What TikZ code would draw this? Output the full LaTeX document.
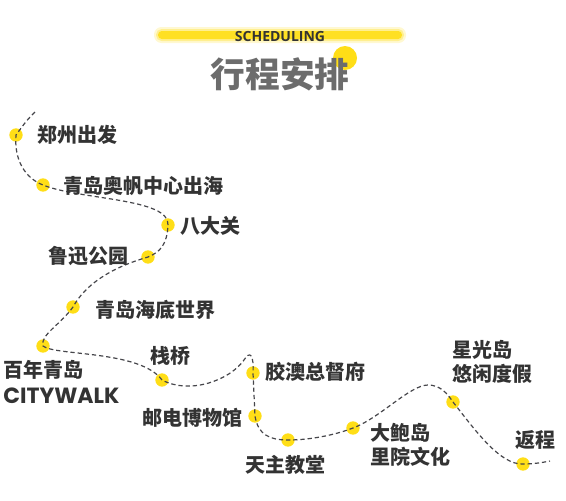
\documentclass[tikz,border=0pt]{standalone}
\usepackage{fontspec}
\newfontfamily\cjk{Noto Sans CJK SC}
\newfontfamily\headfont{Open Sans}
\newfontfamily\roundfont{Poppins}
\definecolor{dotYellow}{RGB}{255,222,23}
\definecolor{inkGray}{RGB}{51,51,51}
\definecolor{titleGray}{RGB}{108,108,108}
\definecolor{routeGray}{RGB}{70,70,75}

\tikzset{
  spot/.style={circle, fill=dotYellow, inner sep=0pt, minimum size=10pt},
  place/.style={font=\cjk\bfseries\fontsize{15}{18.5}\selectfont, text=inkGray,
    inner sep=0pt, align=left},
  route/.style={routeGray, line width=0.9pt, dash pattern=on 3.2pt off 2.2pt}
}

\begin{document}
\begin{tikzpicture}[x=0.75pt, y=-0.75pt]
  \useasboundingbox (0,0) rectangle (566,500);

  % title bar, soft edges
  \foreach \o/\h/\w in {0.2/16/0, 0.35/12/2, 0.9/8/4}
    \fill[dotYellow, opacity=\o, rounded corners=\h*0.35pt]
      (154+\w,35-\h/2) rectangle (406-\w,35+\h/2);
  \node[font=\headfont\bfseries\fontsize{10.5}{12}\selectfont, text=inkGray] (sub) at (280,36) {SCHEDULING};
  \fill[dotYellow] (345,58) circle (12);
  \node[font=\cjk\bfseries\fontsize{26}{30}\selectfont, text=titleGray] (title) at (280,74) {行程安排};

  % stops
  \node[spot] (d1) at (16,135) {};
  \node[spot] (d2) at (43,185) {};
  \node[spot] (d3) at (168,225) {};
  \node[spot] (d4) at (148,257) {};
  \node[spot] (d5) at (73,307) {};
  \node[spot] (d6) at (43,346) {};
  \node[spot] (d7) at (162,380) {};
  \node[spot] (d8) at (253,373) {};
  \node[spot] (d9) at (255,416) {};
  \node[spot] (d10) at (288,440) {};
  \node[spot] (d11) at (353,428) {};
  \node[spot] (d12) at (453,402) {};
  \node[spot] (d13) at (523,464) {};
  \coordinate (s) at (35,112);
  \coordinate (e) at (550,461);

  % the route
  \draw[route] (s) .. controls (27,120) .. (d1.center)
    .. controls (14,160) and (25,178) .. (d2.center)
    .. controls (80,200) and (170,198) .. (d3.center)
    .. controls (167,245) and (160,252) .. (d4.center)
    .. controls (110,268) and (85,285) .. (d5.center)
    .. controls (60,325) and (40,335) .. (d6.center)
    .. controls (55,356) and (140,350) .. (d7.center)
    .. controls (190,395) and (230,380) .. (244,360)
    .. controls (250,350) and (254,355) .. (d8.center)
    -- (d9.center)
    .. controls (258,435) and (270,440) .. (d10.center)
    .. controls (310,440) and (335,435) .. (d11.center)
    .. controls (380,418) and (410,385) .. (428,385)
    .. controls (440,385) and (447,393) .. (d12.center)
    .. controls (475,430) and (500,465) .. (d13.center)
    .. controls (535,464) and (545,462) .. (e);

  % labels
  \node[place, anchor=west] (l1) at (37,135) {郑州出发};
  \node[place, anchor=west] (l2) at (63,186) {青岛奥帆中心出海};
  \node[place, anchor=west] (l3) at (180,226) {八大关};
  \node[place, anchor=west] (l4) at (48,256) {鲁迅公园};
  \node[place, anchor=west] (l5) at (95,310) {青岛海底世界};
  \node[place, anchor=west] (l6) at (3,370) {百年青岛};
  \node[font=\roundfont\bfseries\fontsize{16.5}{18}\selectfont, text=inkGray, inner sep=0pt, anchor=west] (l6b) at (3,396) {CITYWALK};
  \node[place, anchor=west] (l7) at (150,356) {栈桥};
  \node[place, anchor=west] (l8) at (265,372) {胶澳总督府};
  \node[place, anchor=east] (l9) at (243,418) {邮电博物馆};
  \node[place, anchor=west] (l10) at (245,465) {天主教堂};
  \node[place, anchor=west] (l11) at (370,445) {大鲍岛\\里院文化};
  \node[place, anchor=west] (l12) at (452,362) {星光岛\\悠闲度假};
  \node[place, anchor=west] (l13) at (515,440) {返程};
\end{tikzpicture}
\end{document}
